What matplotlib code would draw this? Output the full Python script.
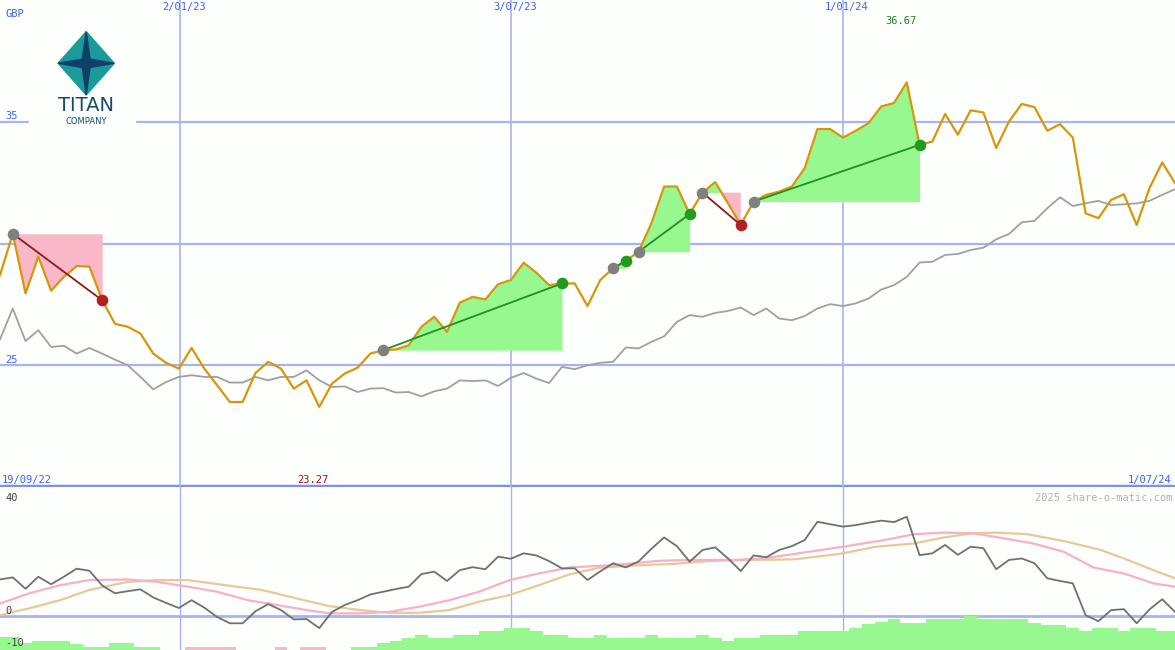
import matplotlib
matplotlib.use("Agg")
import matplotlib.pyplot as plt
import numpy as np
from matplotlib.patches import Polygon, Rectangle

# ---------------------------------------------------------------------------
# Data (weekly, 19/09/22 .. 1/07/24)
# ---------------------------------------------------------------------------
price = [
    28.7, 30.4, 27.95, 29.46, 28.06, 28.63, 29.07, 29.05, 27.67, 26.7,
    26.58, 26.3, 25.48, 25.1, 24.86, 25.71, 24.86, 24.18, 23.49, 23.49,
    24.68, 25.14, 24.86, 24.04, 24.38, 23.29, 24.25, 24.66, 24.9, 25.48,
    25.62, 25.65, 25.82, 26.58, 26.99, 26.37, 27.57, 27.81, 27.7, 28.33,
    28.5, 29.21, 28.8, 28.29, 28.36, 28.36, 27.43, 28.5,
    28.98, 29.29, 29.66, 30.83, 32.34, 32.34, 31.21, 32.09, 32.52, 31.65,
    30.76, 31.72, 32.0, 32.13, 32.34, 33.09, 34.70, 34.70, 34.35, 34.63,
    34.94, 35.63, 35.77, 36.62, 34.05, 34.19, 35.32, 34.47, 35.47, 35.38,
    33.92, 35.01, 35.73, 35.6, 34.63, 34.9, 34.35, 31.24, 31.04, 31.79,
    32.02, 30.76, 32.27, 33.33, 32.48,
]
avg = [
    26.06, 27.33, 25.99, 26.44, 25.75, 25.8, 25.48, 25.71, 25.48, 25.23,
    25.0, 24.52, 24.01, 24.31, 24.52, 24.59, 24.52, 24.52, 24.29, 24.29,
    24.52, 24.38, 24.52, 24.52, 24.79, 24.38, 24.11, 24.13, 23.9, 24.04,
    24.06, 23.88, 23.9, 23.72, 23.93, 24.04, 24.38, 24.35, 24.38, 24.15,
    24.48, 24.68, 24.45, 24.27, 24.93, 24.84, 25.0, 25.1,
    25.14, 25.73, 25.69, 25.96, 26.19, 26.78, 27.06, 26.99, 27.15, 27.23,
    27.37, 27.06, 27.33, 26.92, 26.85, 27.02, 27.33, 27.51, 27.43, 27.54,
    27.74, 28.11, 28.29, 28.63, 29.22, 29.25, 29.53, 29.57, 29.73, 29.83,
    30.17, 30.39, 30.87, 30.93, 31.45, 31.9, 31.54, 31.65, 31.75, 31.58,
    31.61, 31.65, 31.75, 32.0, 32.23,
]
# trades: (entry index, exit index)
trades = [(1, 8), (30, 44), (48, 49), (50, 54), (55, 58), (59, 72)]

osc = [
    12.2, 12.9, 9.1, 13.1, 10.6, 13.1, 15.8, 15.1, 10.2, 7.6,
    8.3, 8.9, 6.2, 4.4, 2.7, 5.3, 2.8, -0.3, -2.4, -2.4,
    1.6, 4.0, 2.0, -1.1, -1.0, -4.0, 1.4, 3.7, 5.3, 7.2,
    8.1, 9.0, 9.8, 14.0, 14.8, 11.7, 15.3, 16.3, 15.6, 19.8,
    19.1, 20.9, 20.2, 18.3, 15.9, 15.9, 12.0, 14.9, 17.6, 16.2,
    18.2, 22.4, 26.2, 23.3, 18.1, 22.0, 22.9, 19.2, 15.0, 20.2,
    19.6, 22.0, 23.3, 25.3, 31.4, 30.6, 29.8, 30.3, 31.1, 31.8,
    31.3, 33.1, 20.3, 20.9, 23.7, 20.4, 23.1, 22.6, 15.6, 18.7,
    19.2, 17.6, 12.6, 11.7, 10.9, 0.3, -1.7, 2.0, 2.3, -2.4,
    2.2, 5.6, 1.4,
]
fast_idx = [0, 2.3, 4.7, 7.0, 10.0, 12.3, 14.7, 17.0, 19.4, 21.7, 24.0, 25.8,
            28.2, 30.5, 32.8, 35.2, 37.5, 39.9, 42.2, 44.6, 48.1, 51.6, 54.0,
            57.5, 59.8, 63.3, 66.3, 69.2, 71.6, 73.9, 76.2, 78.6, 80.9, 83.3,
            85.6, 88.0, 90.3, 92.0]
fast = [4.2, 7.6, 10.3, 12.0, 12.2, 11.4, 9.8, 8.1, 5.3, 3.7, 2.0, 0.9,
        0.9, 1.4, 3.1, 5.3, 8.1, 12.0, 14.2, 16.2, 17.0, 18.4, 18.7,
        18.7, 19.2, 21.4, 23.3, 25.3, 27.3, 27.8, 27.6, 25.9, 24.2, 21.4,
        16.2, 14.2, 10.9, 9.8]
slow_idx = [0, 2.3, 4.7, 7.0, 10.0, 12.3, 14.7, 17.6, 20.5, 23.5, 25.8, 28.2,
            30.5, 32.8, 35.2, 37.5, 39.9, 42.2, 44.6, 46.9, 49.9, 52.8, 55.7,
            58.7, 62.2, 65.7, 68.6, 71.6, 73.9, 76.2, 78.0, 80.4, 83.3, 86.2,
            88.0, 90.3, 92.0]
slow = [0.3, 2.6, 5.3, 8.7, 11.4, 12.0, 12.0, 10.3, 8.7, 5.6, 3.3, 2.0,
        1.1, 1.1, 2.0, 4.8, 7.0, 10.3, 13.9, 16.1, 16.9, 17.4, 18.4,
        18.7, 18.9, 20.7, 23.1, 24.2, 26.2, 27.6, 27.8, 27.3, 25.0, 22.0,
        19.2, 15.3, 12.6]
hist_top = [
    472, 472, 490, 482, 482, 482, 492, 500, 500, 490,
    490, 500, 500, None, None, 500, 500, 500, 500, None,
    None, None, 500, None, 500, 500, None, None, 500, 500,
    490, 482, 473, 465, 473, 473, 465, 465, 453, 453,
    443, 443, 453, 465, 465, 473, 473, 465, 473, 473,
    473, 465, 473, 473, 473, 465, 473, 482, 473, 473,
    465, 465, 465, 453, 453, 453, 453, 443, 432, 425,
    418, 428, 428, 418, 418, 418, 408, 418, 418, 418,
    418, 428, 435, 435, 443, 453, 443, 443, 453, 443,
    443, 453, 453,
]
hist_pink = [15, 16, 17, 18, 22, 24, 25]
hist = [None if v is None else (408 - v) / 9 for v in hist_top]

date_ticks = [14.1, 40.0, 66.0]
date_labels = ["2/01/23", "3/07/23", "1/01/24"]

ORANGE = "#d8960a"
GRID = "#a8b4f0"
BLUE_TXT = "#4060f0"
GREEN_FILL = "#98f890"
PINK_FILL = "#f8b8c8"
FONT = "DejaVu Sans Mono"

fig = plt.figure(figsize=(11.75, 6.5), dpi=100)
fig.patch.set_facecolor("#fdfffd")

x = np.arange(len(price))
p = np.array(price)
X0, X1 = 0, 92

# ---------------------------------------------------------------------------
# Main price panel
# ---------------------------------------------------------------------------
ax = fig.add_axes([0, 163 / 650, 1, 487 / 650])
ax.set_facecolor("#fdfffd")
ax.set_xlim(X0, X1)
ax.set_ylim(20, 40)
ax.axis("off")
for lvl in (25, 30, 35):
    ax.axhline(lvl, color=GRID, lw=1.6, zorder=1)
ax.axhline(20.05, color="#8090e8", lw=2.5, zorder=1)
for t in date_ticks:
    ax.axvline(t, color=GRID, lw=1.2, zorder=1)

for a, b in trades:
    xs = x[a:b + 1]
    ys = p[a:b + 1]
    lvl = p[a]
    ax.fill_between(xs, ys, lvl, where=ys >= lvl, interpolate=True,
                    color=GREEN_FILL, lw=0, zorder=2)
    ax.fill_between(xs, ys, lvl, where=ys <= lvl, interpolate=True,
                    color=PINK_FILL, lw=0, zorder=2)
    ax.fill_between([b - 0.02, b], [p[b], p[b]], [lvl, lvl],
                    color=GREEN_FILL if p[b] > lvl else PINK_FILL, lw=0, zorder=2)

ax.plot(x, avg, color="#a0a0a0", lw=1.3, zorder=3)
ax.plot(x, p, color=ORANGE, lw=1.6, zorder=4)

for a, b in trades:
    win = p[b] > p[a]
    ax.plot([a, b], [p[a], p[b]], color="#209020" if win else "#901818",
            lw=1.3, zorder=5)
    ax.scatter([a], [p[a]], s=70, color="#808080", zorder=6, lw=0)
    ax.scatter([b], [p[b]], s=70, color="#209a20" if win else "#b02020",
               zorder=6, lw=0)

# logo
ax.add_patch(Rectangle((2.3, 34.6), 8.3, 5.0, color="#fdfffd", zorder=7))
cx, cy = 6.75, 37.4
ax.add_patch(Polygon([(cx, cy + 1.3), (cx + 2.2, cy), (cx, cy - 1.3), (cx - 2.2, cy)],
                     closed=True, color="#1a9a9a", zorder=8))
ax.add_patch(Polygon([(cx, cy + 1.3), (cx + 0.35, cy), (cx, cy - 1.3), (cx - 0.35, cy)],
                     closed=True, color="#10406a", zorder=9))
ax.add_patch(Polygon([(cx - 2.2, cy), (cx, cy + 0.2), (cx + 2.2, cy), (cx, cy - 0.2)],
                     closed=True, color="#10406a", zorder=9))
ax.text(cx, 35.65, "TITAN", ha="center", va="center", fontsize=14,
        color="#1a4a6a", family="DejaVu Sans", zorder=10)
ax.text(cx, 35.0, "COMPANY", ha="center", va="center", fontsize=6,
        color="#1a4a6a", family="DejaVu Sans", zorder=10)

tkw = dict(fontsize=7.5, family=FONT, zorder=11)
ax.text(0.4, 39.3, "GBP", color=BLUE_TXT, **tkw)
ax.text(0.4, 35.1, "35", color=BLUE_TXT, **tkw)
ax.text(0.4, 25.1, "25", color=BLUE_TXT, **tkw)
for t, lab in zip(date_ticks, date_labels):
    ax.text(t - 1.4, 39.6, lab, color=BLUE_TXT, **tkw)
ax.text(69.3, 39.0, "36.67", color="#208020", **tkw)
ax.text(0.1, 20.15, "19/09/22", color=BLUE_TXT, **tkw)
ax.text(23.3, 20.15, "23.27", color="#a01010", **tkw)
ax.text(91.7, 20.15, "1/07/24", color=BLUE_TXT, ha="right", **tkw)

# ---------------------------------------------------------------------------
# Lower oscillator panel
# ---------------------------------------------------------------------------
ax2 = fig.add_axes([0, 0, 1, 163 / 650])
ax2.set_facecolor("#fdfffd")
ax2.set_xlim(X0, X1)
ax2.set_ylim(-11.3, 43)
ax2.axis("off")
ax2.axhline(0, color=GRID, lw=2, zorder=1)
for t in date_ticks:
    ax2.axvline(t, color=GRID, lw=1.0, zorder=1)

for i, h in enumerate(hist):
    if h is None:
        continue
    ax2.bar(i, h + 11.3, bottom=-11.3, width=1.0,
            color=PINK_FILL if i in hist_pink else GREEN_FILL, lw=0, zorder=2)

ax2.plot(slow_idx, slow, color="#e8c898", lw=1.6, zorder=3)
ax2.plot(fast_idx, fast, color="#f8b0c8", lw=1.6, zorder=3)
ax2.plot(x, osc, color="#707070", lw=1.3, zorder=4)

ax2.text(0.4, 38.5, "40", color="#404040", **tkw)
ax2.text(0.4, 0.7, "0", color="#404040", **tkw)
ax2.text(0.4, -10.0, "-10", color="#404040", **tkw)
ax2.text(91.8, 38.5, "2025 share-o-matic.com", color="#b0b0b0", ha="right", **tkw)

fig.savefig("out.png", dpi=100, facecolor=fig.get_facecolor())
